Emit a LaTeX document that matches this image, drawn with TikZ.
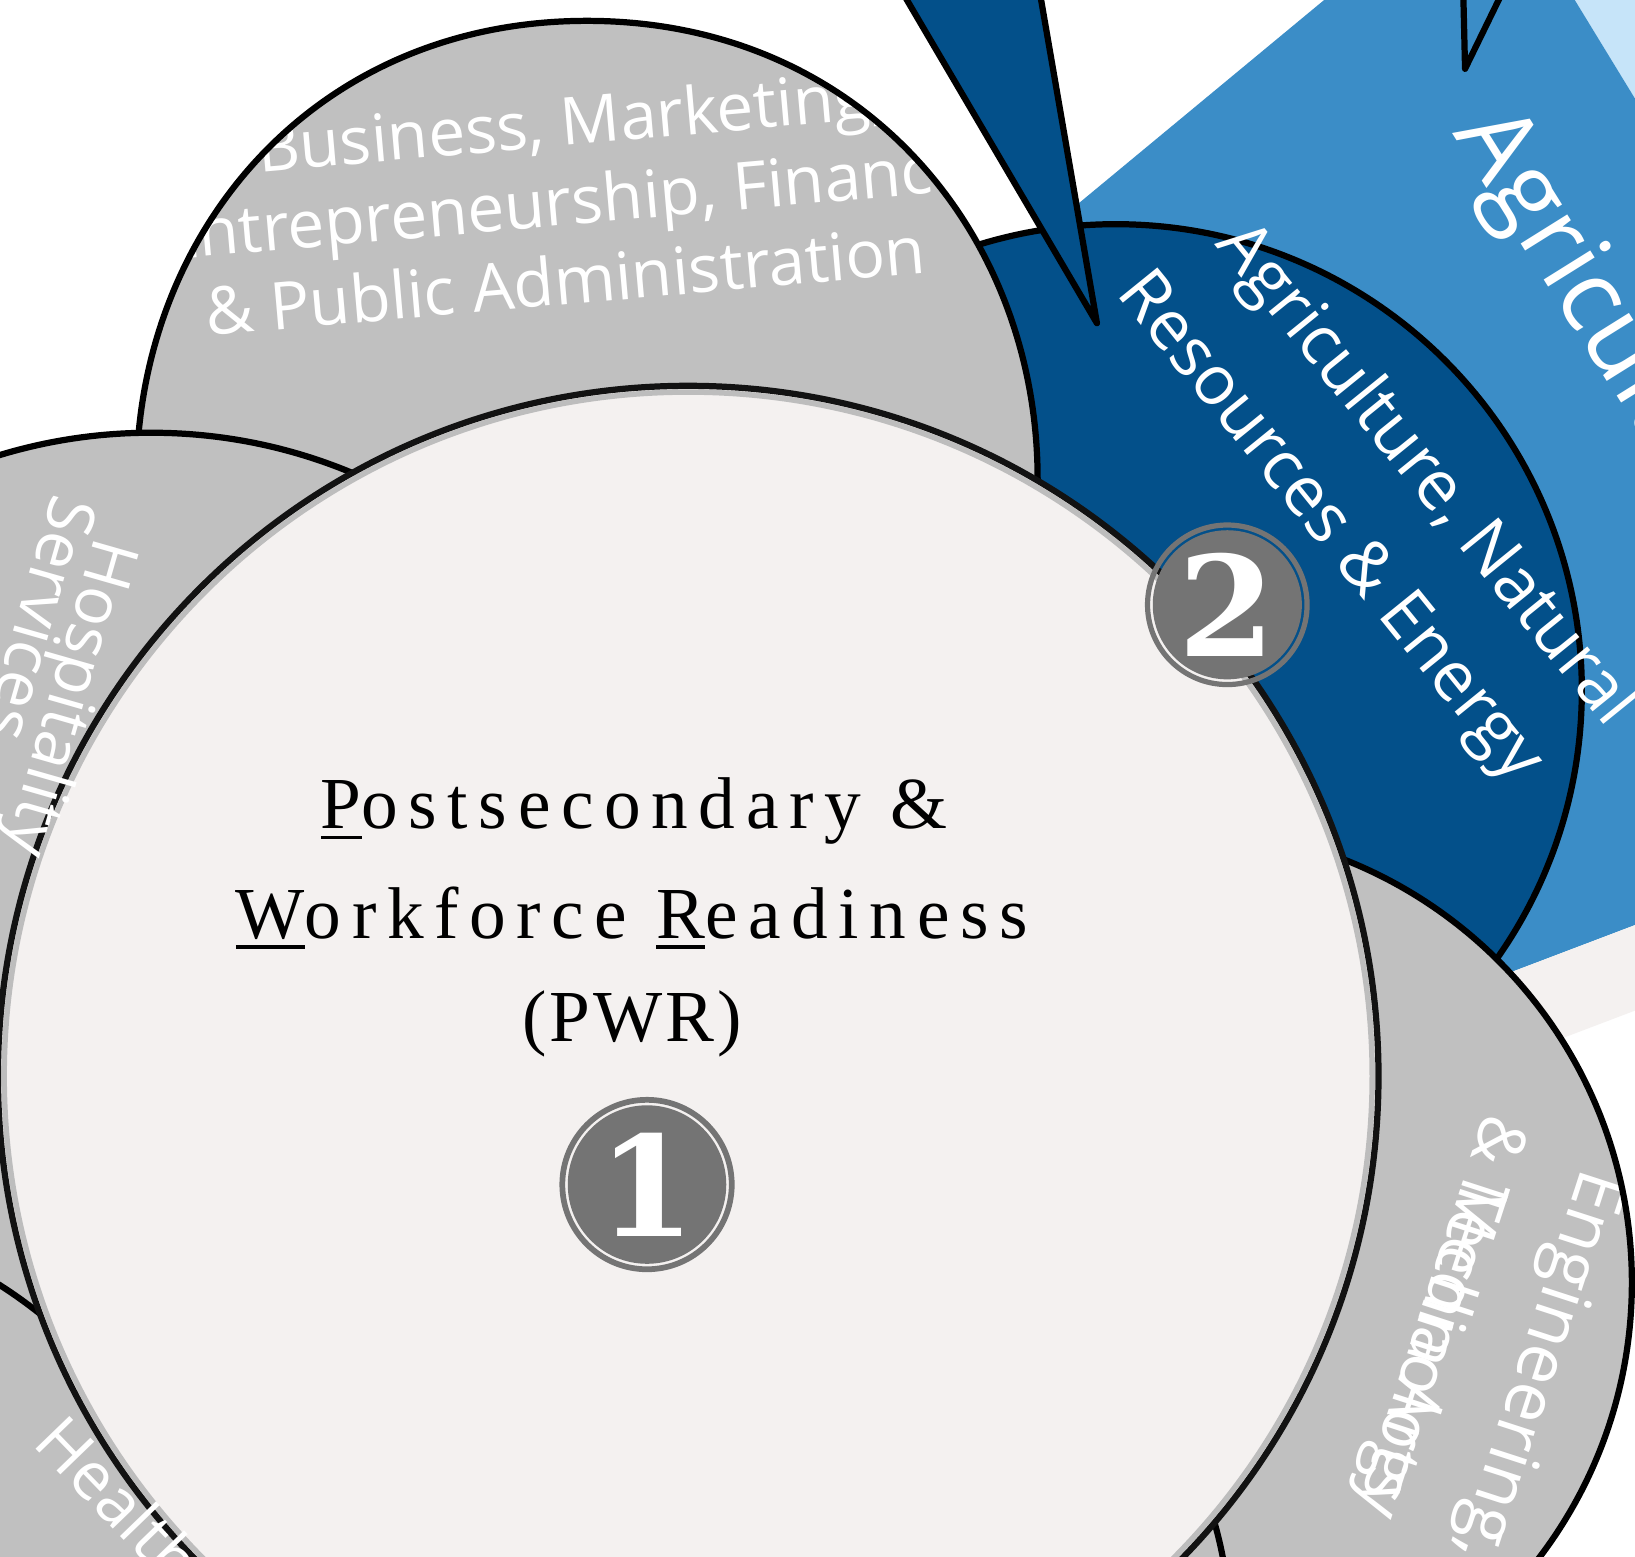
\documentclass[tikz,border=0pt]{standalone}
\usepackage{fontspec}
\setmainfont{Liberation Serif}
\newfontfamily\lblfont{Open Sans}
\newfontfamily\pwrfont[LetterSpace=14.5]{Liberation Serif}
\newfontfamily\pwrtight[LetterSpace=4]{Liberation Serif}
\newfontfamily\badgefont{DejaVu Serif}
\definecolor{shapegray}{HTML}{C0C0C0}
\definecolor{pwrfill}{HTML}{F4F1F0}
\definecolor{darkblue}{HTML}{03508A}
\definecolor{midblue}{HTML}{3B8DC7}
\definecolor{lightblue}{HTML}{C6E4F9}
\definecolor{badgegray}{HTML}{747474}
\definecolor{rimgray}{HTML}{BDBDBD}
\newcommand\ulc[1]{\setbox0\hbox{#1}\rlap{\rule[-5.5pt]{\wd0}{1.8pt}}\box0}
\def\busshape{(563,20) .. controls (830,20) and (1000,230) .. (995,470) -- (995,700) -- (131,700) -- (131,470) .. controls (126,230) and (296,20) .. (563,20) -- cycle}
\tikzset{
  outline/.style={draw=black,line width=3.4pt,line join=round},
  lbl/.style={text=white,inner sep=0pt,font=\lblfont\fontsize{36}{43}\selectfont},
  englbl/.style={text=white,inner sep=0pt,font=\lblfont\fontsize{38.5}{46}\selectfont},
  engsmall/.style={text=white,inner sep=0pt,font=\lblfont\fontsize{36.5}{44}\selectfont},
  agrlbl/.style={text=white,inner sep=0pt,font=\lblfont\fontsize{37.5}{45}\selectfont},
  biglbl/.style={text=white,inner sep=0pt,font=\lblfont\fontsize{56}{66}\selectfont},
  pwr/.style={text=black,inner sep=0pt,font=\pwrfont\fontsize{40}{60}\selectfont},
  badgenum/.style={text=white,inner sep=0pt,font=\badgefont\bfseries\fontsize{76}{76}\selectfont},
}
\begin{document}
\begin{tikzpicture}[x=0.02cm,y=-0.02cm]
\useasboundingbox (0,0) rectangle (1568,1493);
\clip (0,0) rectangle (1568,1493);
\fill[white] (0,0) rectangle (1568,1493);
% background bands
\fill[lightblue] (1498,-20) -- (1600,-20) -- (1600,147) -- cycle;
\fill[midblue] (1294,-20) -- (1498,-20) -- (1600,147) -- (1600,875) -- (1300,989)
  -- (1000,600) -- (1020,300) -- (1020,207) -- cycle;
\fill[pwrfill] (1300,989) -- (1600,875) -- (1600,957) -- (1300,1071) -- cycle;
\node[biglbl,rotate=-58,anchor=base west] (bigagr) at (1393,128) {Agriculture};
\draw[outline,fill=midblue] (1403,-20) -- (1405,66) -- (1447,-20);
% agriculture circle and spike
\draw[outline,fill=darkblue] (1070,662) circle[radius=447];
\draw[outline,fill=darkblue] (858,-20) -- (1052,310) -- (995,-20);
% business shape
\fill[shapegray] \busshape;
\begin{scope}
  \clip \busshape;
  \node[lbl,rotate=5,anchor=base] (bus1) at (550,139) {Business, Marketing,};
  \node[lbl,rotate=5,anchor=base] (bus2) at (552,215) {Entrepreneurship, Finance,};
  \node[lbl,rotate=5,anchor=base] (bus3) at (544,292) {\& Public Administration};
\end{scope}
\draw[outline] (995,560) -- (995,470) .. controls (1000,230) and (830,20) .. (563,20)
  .. controls (296,20) and (126,230) .. (131,470) -- (131,560);
% hospitality
\draw[outline,fill=shapegray] (145,915) circle[radius=500];
% health
\draw[outline,fill=shapegray] (-242,1612) circle[radius=450];
% engineering
\fill[shapegray] (1129,1230) circle[radius=436];
\begin{scope}
  \clip (1129,1230) circle[radius=436];
  \node[englbl,rotate=-108,anchor=base west] (eng1) at (1518,1118) {Engineering,};
  \node[engsmall,rotate=-108,anchor=base west] (eng2) at (1425,1066) {\& Technology};
  \node[engsmall,rotate=-108,anchor=base west] (med) at (1425,1066) {\phantom{\& }Media Arts};
\end{scope}
\draw[outline] (1129,1230) circle[radius=436];
% bottom circle
\draw[outline,fill=shapegray] (780,1570) circle[radius=400];
% main circle
\fill[pwrfill] (660,1032) circle[radius=662];
\draw[rimgray,line width=3pt] (660,1032) circle[radius=656];
\draw[black!93,line width=3.4pt] (660,1032) circle[radius=662];
% side labels on top
\begin{scope}
  \clip (145,915) circle[radius=500];
  \node[lbl,rotate=-106,anchor=base west] (hosp1) at (92,513) {Hospitality};
  \node[lbl,rotate=-106,anchor=base west] (hosp2) at (51,472) {Services};
\end{scope}
\begin{scope}
  \clip (-242,1612) circle[radius=450];
  \node[lbl,rotate=-46,anchor=base west] (health) at (30,1385) {Health};
\end{scope}
% agriculture label
\node[agrlbl,rotate=-51,anchor=base] (agr1) at (1353,467) {Agriculture, Natural};
\node[agrlbl,rotate=-51,anchor=base] (agr2) at (1261,517) {Resources \& Energy};
% PWR text
\node[pwr,anchor=base] (pwr1) at (608,795) {\ulc{P}ostsecondary \&};
\node[pwr,anchor=base] (pwr2) at (606,900) {\ulc{W}orkforce \ulc{R}eadiness};
\node[pwr,font=\pwrtight\fontsize{40}{60}\selectfont,anchor=base] (pwr3) at (606,999) {(PWR)};
% badges
\coordinate (b1) at (620.5,1136);
\fill[badgegray,even odd rule] (b1) circle[radius=84] (b1) circle[radius=78.5];
\fill[badgegray] (b1) circle[radius=76];
\node[badgenum] (n1) at (b1) {1};
\coordinate (b2) at (1177,580);
\fill[badgegray,even odd rule] (b2) circle[radius=79] (b2) circle[radius=74];
\fill[badgegray] (b2) circle[radius=71.5];
\node[badgenum] (n2) at (b2) {2};
\end{tikzpicture}
\end{document}
